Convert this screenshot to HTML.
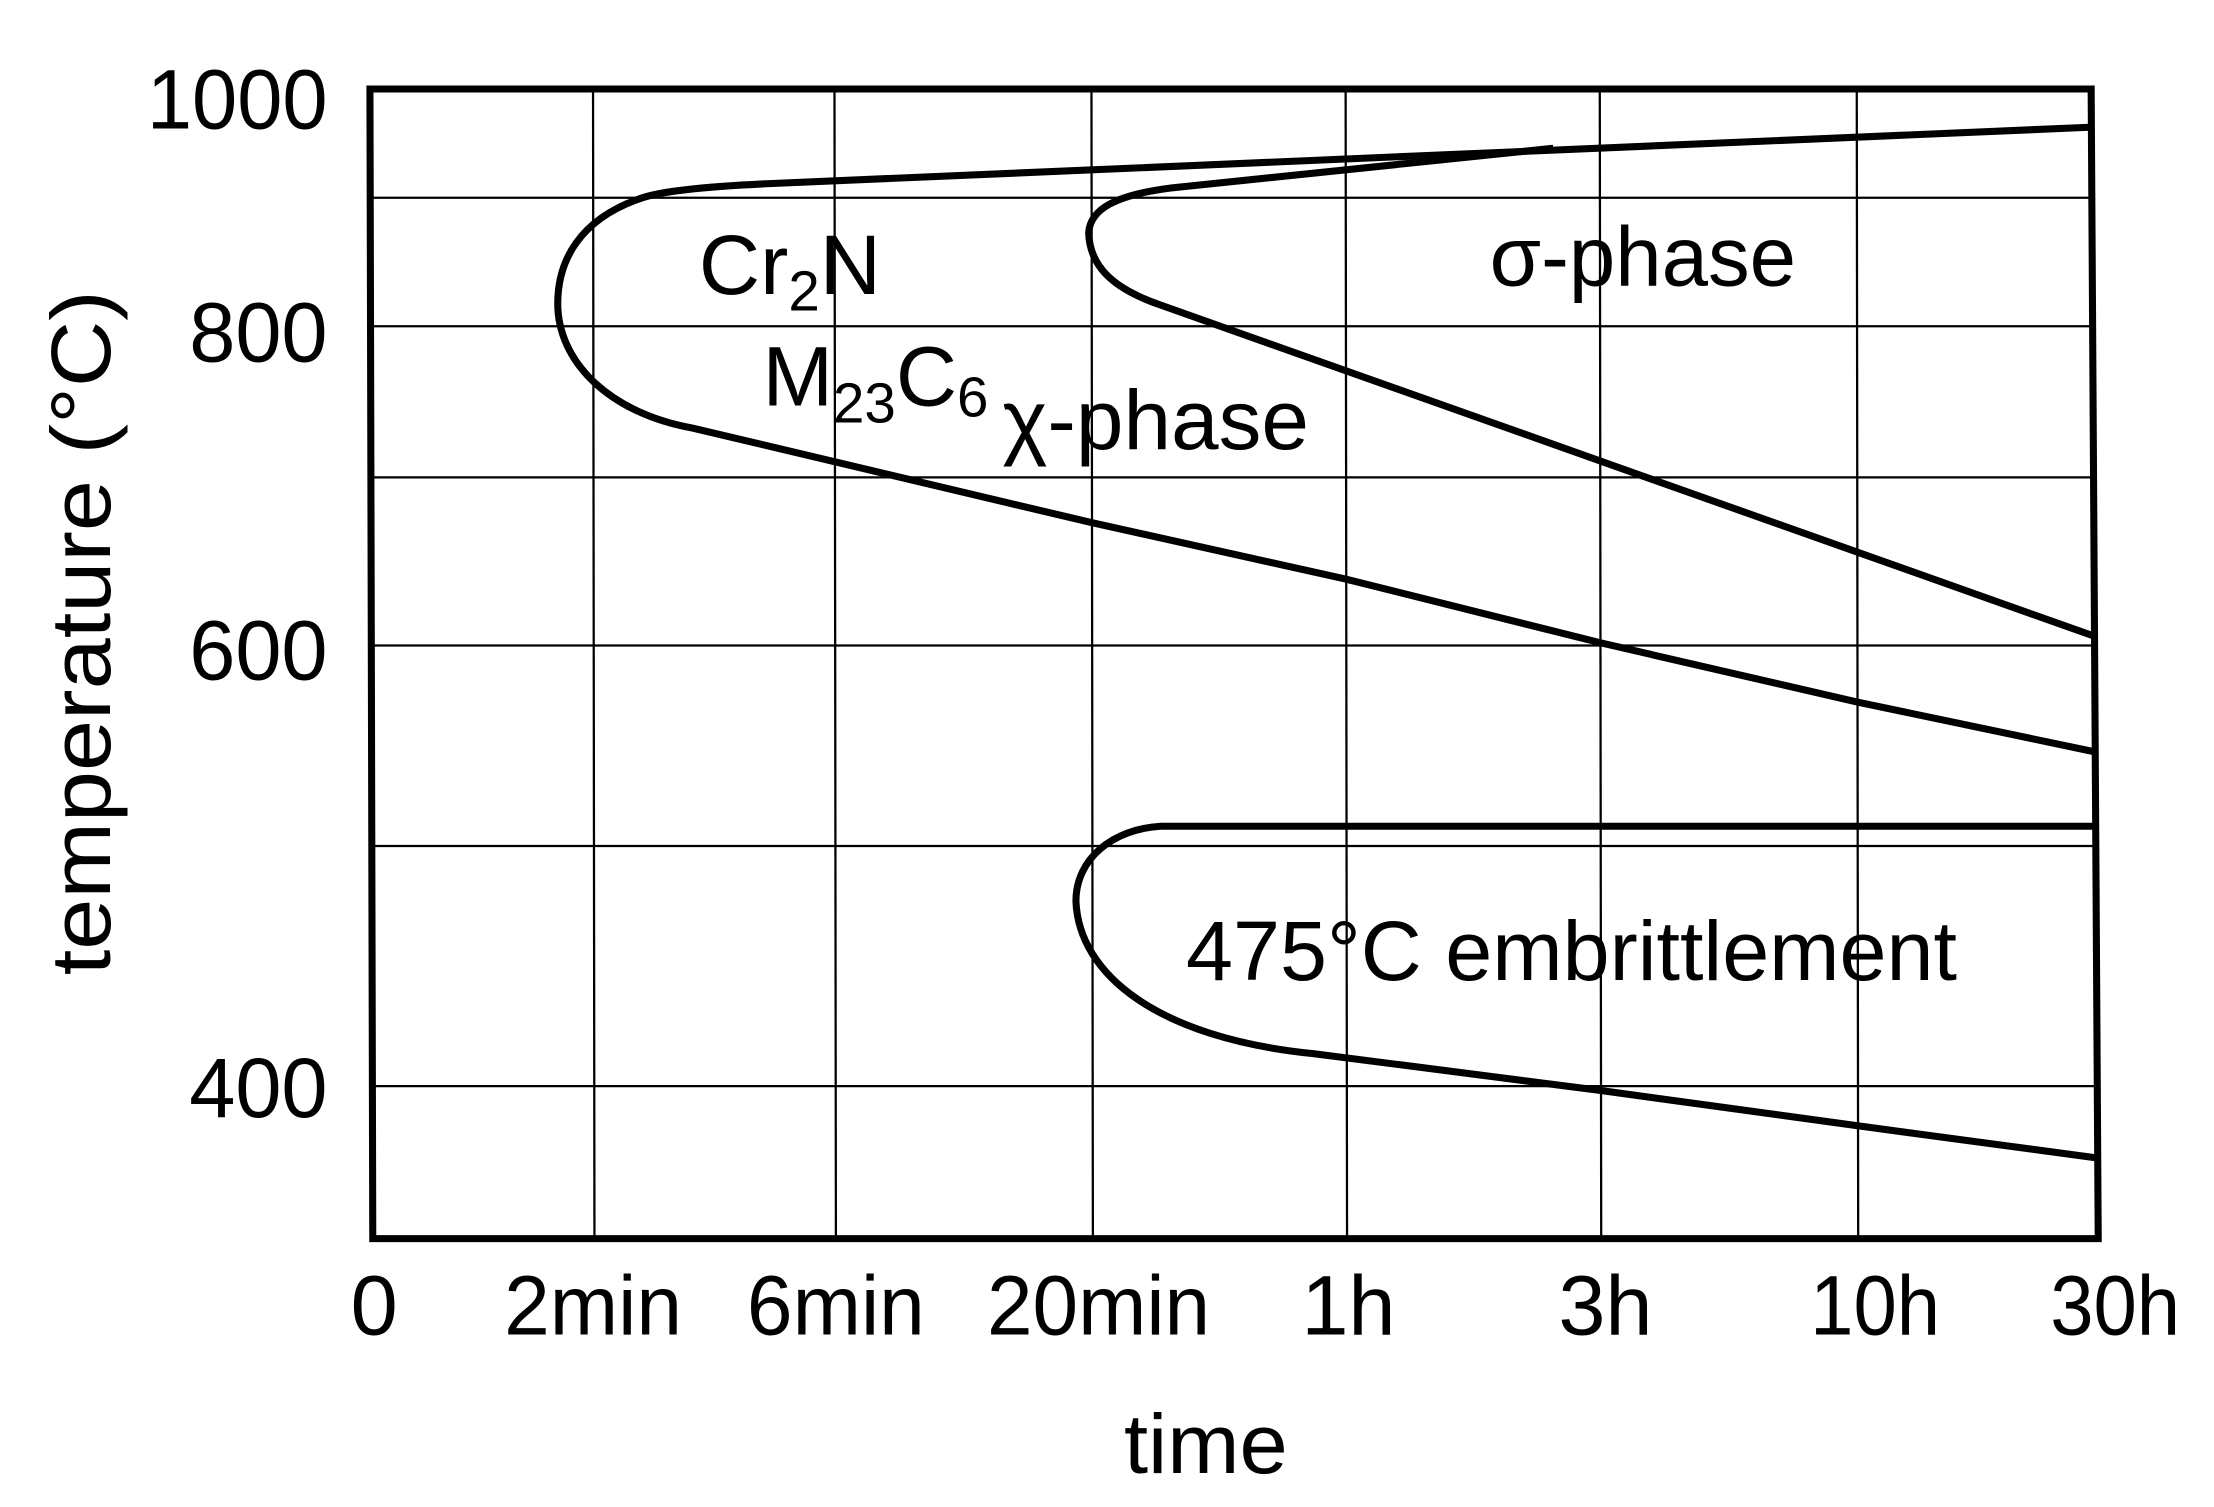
<!DOCTYPE html>
<html><head><meta charset="utf-8"><style>
html,body{margin:0;padding:0;background:#fff;}
svg{display:block;}
text{font-family:"Liberation Sans",Arial,sans-serif;fill:#000;}
</style></head><body>
<svg width="2214" height="1507" viewBox="0 0 1568 1067" preserveAspectRatio="none" xmlns="http://www.w3.org/2000/svg">
<rect width="1568" height="1067" fill="#fff"/>
<g stroke="#000" stroke-width="1.6" fill="none">
<line x1="420" y1="63" x2="421" y2="877"/>
<line x1="591" y1="63" x2="592" y2="877"/>
<line x1="773" y1="63" x2="774" y2="877"/>
<line x1="953" y1="63" x2="954" y2="877"/>
<line x1="1133" y1="63" x2="1134" y2="877"/>
<line x1="1315" y1="63" x2="1316" y2="877"/>
<line x1="262" y1="140" x2="1482" y2="140"/>
<line x1="262" y1="231" x2="1482" y2="231"/>
<line x1="262" y1="338" x2="1483" y2="338"/>
<line x1="262" y1="457" x2="1484" y2="457"/>
<line x1="263" y1="599" x2="1484" y2="599"/>
<line x1="263" y1="769" x2="1485" y2="769"/>
</g>
<path d="M262,63 L1481,63 L1486,877 L264,877 Z" stroke="#000" stroke-width="5" fill="none"/>
<g stroke="#000" stroke-width="5" fill="none" stroke-linejoin="round">
<path d="M1482,90 L545,130 C500,132 470,135 455,140 C410,155 395,185 395,215 C395,255 430,292 490,303 L773,370 L953,410 L1133,455 L1315,497 L1482,532"/>
<path d="M1100,105 L830,133 C790,138 772,148 771,165 C772,190 790,205 822,216 L1482,450"/>
<path d="M1483,585 L822,585 C788,587 762,608 762,638 C764,690 820,735 930,746 L1133,772 L1315,797 L1486,820"/>
</g>
<g font-size="60" text-anchor="end">
<text x="232" y="91" textLength="128" lengthAdjust="spacingAndGlyphs">1000</text>
<text x="232" y="256" textLength="98" lengthAdjust="spacingAndGlyphs">800</text>
<text x="232" y="481" textLength="98" lengthAdjust="spacingAndGlyphs">600</text>
<text x="232" y="791" textLength="98" lengthAdjust="spacingAndGlyphs">400</text>
</g>
<g font-size="60" text-anchor="middle">
<text x="265" y="945">0</text>
<text x="420" y="945" textLength="126" lengthAdjust="spacingAndGlyphs">2min</text>
<text x="592" y="945" textLength="126" lengthAdjust="spacingAndGlyphs">6min</text>
<text x="778" y="945" textLength="158" lengthAdjust="spacingAndGlyphs">20min</text>
<text x="955" y="945">1h</text>
<text x="1137" y="945">3h</text>
<text x="1328" y="945" textLength="92" lengthAdjust="spacingAndGlyphs">10h</text>
<text x="1498" y="945" textLength="92" lengthAdjust="spacingAndGlyphs">30h</text>
<text x="854" y="1043" textLength="116" lengthAdjust="spacingAndGlyphs">time</text>
<text transform="translate(78,448) rotate(-90)" textLength="485" lengthAdjust="spacingAndGlyphs">temperature (°C)</text>
</g>
<g font-size="60">
<text x="495" y="208">Cr<tspan font-size="40" dy="12">2</tspan><tspan dy="-12">N</tspan></text>
<text x="540" y="287">M<tspan font-size="40" dy="12">23</tspan><tspan dy="-12">C</tspan><tspan font-size="40" dy="8">6</tspan></text>
<text x="710" y="318" textLength="217" lengthAdjust="spacingAndGlyphs">χ-phase</text>
<text x="1055" y="202" textLength="217" lengthAdjust="spacingAndGlyphs">σ-phase</text>
<text x="840" y="694" textLength="546" lengthAdjust="spacingAndGlyphs">475°C embrittlement</text>
</g>
</svg>
</body></html>
